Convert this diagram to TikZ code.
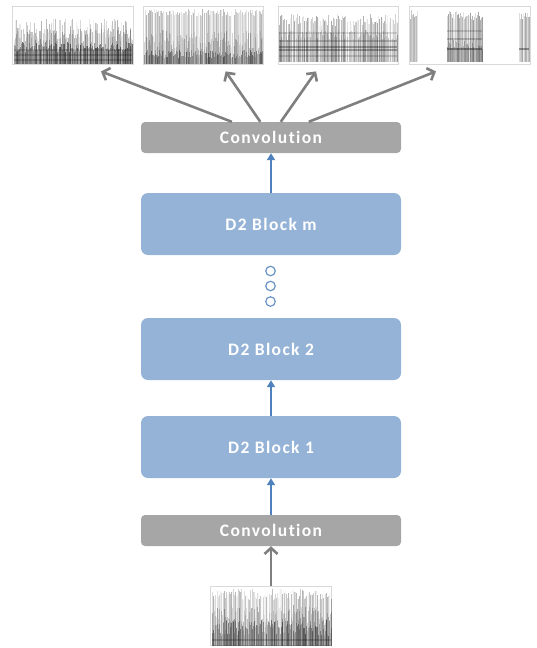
\documentclass[tikz,border=0pt]{standalone}
\usepackage{fontspec}
\setmainfont{Carlito}[Ligatures=NoCommon]
\usetikzlibrary{arrows.meta,calc}
\definecolor{blk}{HTML}{95B3D7}
\definecolor{cgray}{HTML}{A6A6A6}
\definecolor{agray}{HTML}{7F7F7F}
\definecolor{ablue}{HTML}{4F81BD}
\definecolor{frame}{HTML}{D9D9D9}
% x0, x1, step, ybottom, ytopmin, ytopmax, opmin, opmax
\newcommand{\specstripes}[8]{%
  \pgfmathsetmacro{\sxb}{#1+#3}%
  \foreach \xx in {#1,\sxb,...,#2}{%
    \pgfmathsetmacro{\yt}{#5+rnd*(#6-#5)}%
    \pgfmathsetmacro{\op}{max(0,#7+rnd*(#8-#7))}%
    \draw[line width=0.9pt, draw=black, opacity=\op] (\xx,#4) -- (\xx,\yt);
  }%
}
\newcommand{\specband}[5]{% x0 x1 y width opacity
  \draw[line width=#4pt, draw=black, opacity=#5] (#1,#3) -- (#2,#3);
}
\begin{document}
\begin{tikzpicture}[x=1pt,y=-1pt,
  labelfont/.style={font=\addfontfeatures{LetterSpace=8}\bfseries\fontsize{17.5}{20}\selectfont},
  blockbox/.style={fill=blk, rounded corners=7pt, minimum width=260pt, minimum height=62pt,
    text=white, labelfont, inner sep=0pt},
  convbox/.style={fill=cgray, rounded corners=4pt, minimum width=260pt, minimum height=31pt,
    text=white, labelfont, inner sep=0pt},
  specbox/.style={draw=frame, line width=0.8pt, fill=white, minimum width=120pt, minimum height=58pt, inner sep=0pt},
  garrow/.style={draw=agray, line width=2.6pt, -{Straight Barb[length=6pt,width=13pt]}},
  barrow/.style={draw=ablue, line width=2pt, -{Triangle[length=7pt,width=8pt]}},
  dotc/.style={circle, draw=ablue!85, line width=1.2pt, minimum size=9.5pt, inner sep=0pt}
]
\useasboundingbox (0,0) rectangle (536,648);
\pgfmathsetseed{7}

% spectrogram frames
\node[specbox, minimum width=121pt] (s1) at (72.5,35.5) {};
\node[specbox] (s2) at (203,35.5) {};
\node[specbox] (s3) at (338,35.5) {};
\node[specbox, minimum width=121pt] (s4) at (469.5,35.5) {};
\node[specbox, minimum width=121pt, minimum height=59pt] (s0) at (271,616) {};

% spectrogram 1
\specstripes{14}{132}{1}{63.5}{18}{34}{-0.15}{0.3}
\specstripes{14}{132}{1}{63.5}{28}{42}{0.02}{0.3}
\specstripes{14}{132}{1}{63.5}{42}{52}{0.2}{0.55}
\specband{14}{132}{50}{1.5}{0.15}
\specband{14}{132}{55}{1.5}{0.2}
\specband{14}{132}{60}{1.5}{0.2}
% spectrogram 2
\specstripes{144}{262}{1}{63.5}{9}{16}{0.0}{0.3}
\specstripes{144}{262}{1}{63.5}{30}{50}{0.03}{0.25}
\specstripes{144}{262}{1}{63.5}{50}{58}{0.1}{0.45}
% spectrogram 3
\specstripes{279}{397}{1}{62}{14}{26}{-0.05}{0.35}
\specstripes{279}{397}{1}{62}{30}{40}{0.02}{0.25}
\specband{279}{397}{33}{1.5}{0.12}
\specband{279}{397}{41}{2}{0.2}
\specband{279}{397}{47}{1.5}{0.3}
\specband{279}{397}{50}{2}{0.3}
\specband{279}{397}{56}{1.5}{0.15}
% spectrogram 4
\specstripes{410}{417}{1}{62}{10}{22}{0.05}{0.35}
\specstripes{447}{482}{1}{62}{10}{20}{0.05}{0.4}
\specstripes{447}{482}{1}{62}{40}{50}{0.05}{0.3}
\specstripes{519}{529}{1}{62}{10}{20}{0.05}{0.35}
\specband{447}{482}{49}{2}{0.35}
\specband{519}{529}{49}{2}{0.35}
\specband{447}{482}{39}{1.5}{0.2}
\specband{447}{482}{31}{1.5}{0.15}
% bottom spectrogram
\specstripes{212}{331}{1}{645.5}{589}{600}{0.0}{0.3}
\specstripes{212}{331}{1}{645.5}{605}{625}{0.03}{0.3}
\specstripes{212}{331}{1}{645.5}{620}{636}{0.12}{0.45}
\specband{212}{331}{640}{1.5}{0.2}

% boxes
\node[convbox] (convtop) at (271,137.5) {Convolution};
\node[blockbox] (bm) at (271,224) {D2 Block m};
\node[dotc] (d1) at (270.5,271) {};
\node[dotc] (d2) at (270.5,286) {};
\node[dotc] (d3) at (270.5,301.5) {};
\node[blockbox] (b2) at (271,349) {D2 Block 2};
\node[blockbox] (b1) at (271,447) {D2 Block 1};
\node[convbox] (convbot) at (271,530.5) {Convolution};

% output arrows
\coordinate (o1) at ($(convtop.north west)+(91,0)$);
\coordinate (o2) at ($(convtop.north west)+(119.5,0)$);
\coordinate (o3) at ($(convtop.north west)+(140,0)$);
\coordinate (o4) at ($(convtop.north west)+(168,0)$);
\coordinate (t1) at ($(s1.south)+(28.5,6.5)$);
\coordinate (t2) at ($(s2.south)+(22.6,6.5)$);
\coordinate (t3) at ($(s3.south)+(-22,6.5)$);
\coordinate (t4) at ($(s4.south)+(-33.5,6.5)$);
\draw[garrow] (o1) -- (t1);
\draw[garrow] (o2) -- (t2);
\draw[garrow] (o3) -- (t3);
\draw[garrow] (o4) -- (t4);

% blue arrows
\draw[barrow] (bm.north) -- (convtop.south);
\draw[barrow] (b1.north) -- (b2.south);
\draw[barrow] (convbot.north) -- (b1.south);
% input arrow
\draw[garrow] (s0.north) -- (convbot.south);
\end{tikzpicture}
\end{document}
